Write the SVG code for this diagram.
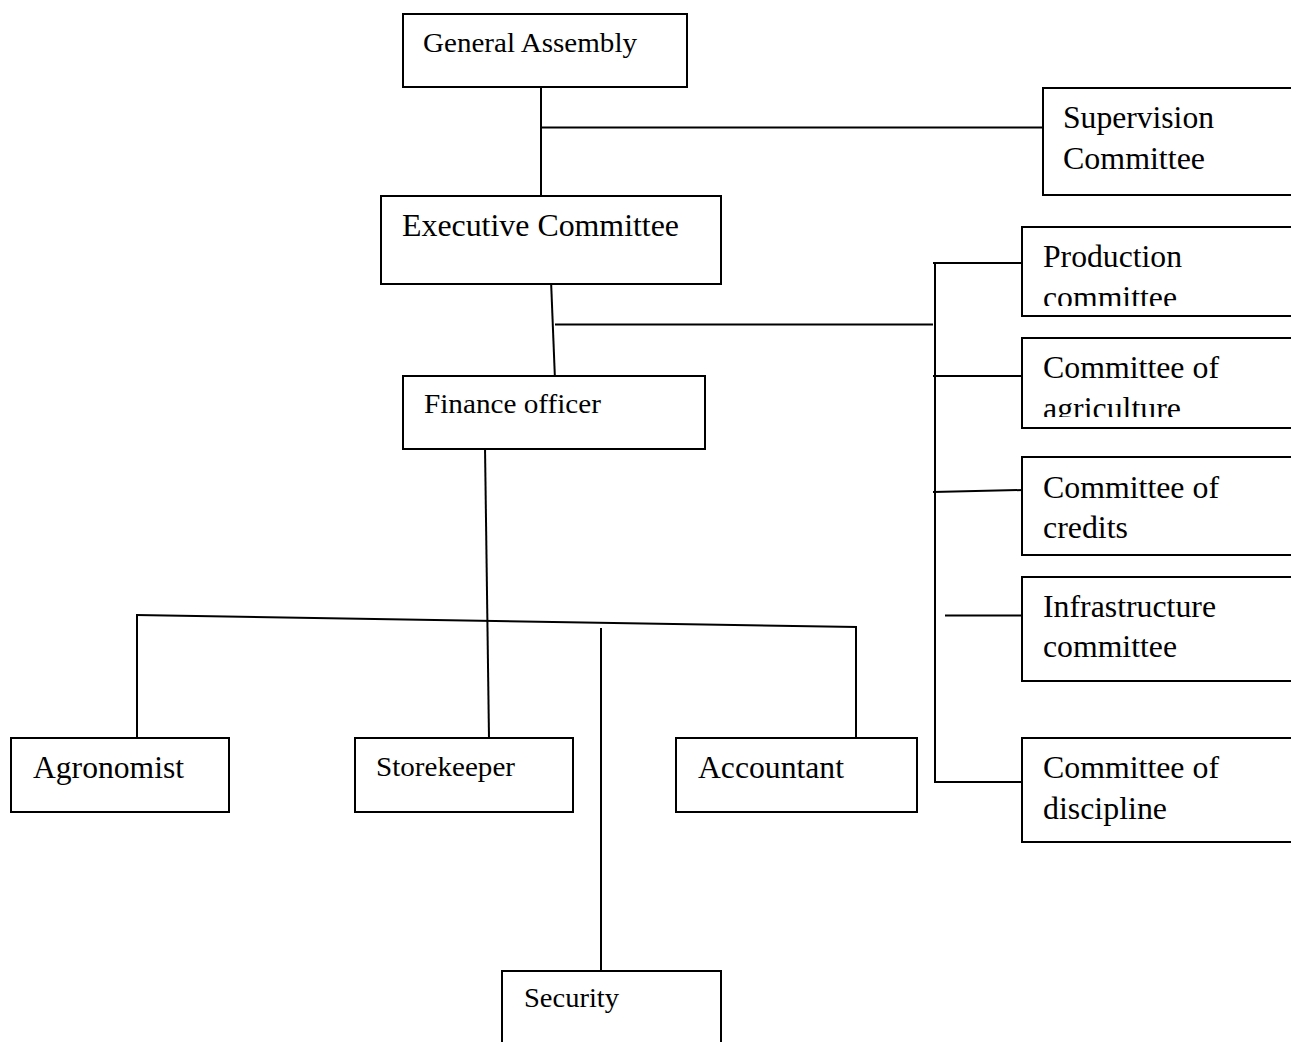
<svg xmlns="http://www.w3.org/2000/svg" width="1291" height="1042" viewBox="0 0 1291 1042">
<style>
.box{fill:#fff;stroke:#000;stroke-width:2}
.t{font-family:"Liberation Serif","Times New Roman",serif;fill:#000}
.l{font-size:31px}
.s{font-size:28px}
.c{stroke:#000;stroke-width:2;fill:none}
</style>
<defs>
<clipPath id="clipProd"><rect x="1023" y="227" width="280" height="79"/></clipPath>
<clipPath id="clipAgri"><rect x="1023" y="338" width="280" height="79"/></clipPath>
</defs>
<rect width="1291" height="1042" fill="#fff"/>
<g id="connectors">
<line class="c" x1="541" y1="84" x2="541" y2="196"/>
<line class="c" x1="541" y1="127.5" x2="1043" y2="127.5"/>
<line class="c" x1="551" y1="280" x2="555" y2="380"/>
<line class="c" x1="555" y1="324.5" x2="933" y2="324.5"/>
<line class="c" x1="935" y1="262" x2="935" y2="783"/>
<line class="c" x1="933" y1="263" x2="1023" y2="263"/>
<line class="c" x1="933" y1="376" x2="1023" y2="376"/>
<line class="c" x1="933" y1="492" x2="1023" y2="490"/>
<line class="c" x1="945" y1="615.5" x2="1023" y2="615.5"/>
<line class="c" x1="934" y1="782" x2="1023" y2="782"/>
<line class="c" x1="485" y1="447" x2="489" y2="738"/>
<line class="c" x1="136" y1="615" x2="857" y2="627"/>
<line class="c" x1="137" y1="614" x2="137" y2="738"/>
<line class="c" x1="856" y1="626" x2="856" y2="738"/>
<line class="c" x1="601" y1="628" x2="601" y2="972"/>
</g>
<g id="general-assembly">
<rect class="box" x="403" y="14" width="284" height="73"/>
<text class="t s" x="423" y="52" textLength="214" lengthAdjust="spacingAndGlyphs">General Assembly</text>
</g>
<g id="supervision-committee">
<rect class="box" x="1043" y="88" width="270" height="107"/>
<text class="t l" x="1063" y="128" textLength="151" lengthAdjust="spacingAndGlyphs">Supervision</text>
<text class="t l" x="1063" y="169" textLength="142" lengthAdjust="spacingAndGlyphs">Committee</text>
</g>
<g id="executive-committee">
<rect class="box" x="381" y="196" width="340" height="88"/>
<text class="t l" x="402" y="236" textLength="277" lengthAdjust="spacingAndGlyphs">Executive Committee</text>
</g>
<g id="production-committee">
<rect class="box" x="1022" y="227" width="290" height="89"/>
<g clip-path="url(#clipProd)">
<text class="t l" x="1043" y="267" textLength="139" lengthAdjust="spacingAndGlyphs">Production</text>
<text class="t l" x="1043" y="308" textLength="134" lengthAdjust="spacingAndGlyphs">committee</text>
</g>
</g>
<g id="committee-agriculture">
<rect class="box" x="1022" y="338" width="290" height="90"/>
<g clip-path="url(#clipAgri)">
<text class="t l" x="1043" y="378" textLength="176" lengthAdjust="spacingAndGlyphs">Committee of</text>
<text class="t l" x="1043" y="419" textLength="138" lengthAdjust="spacingAndGlyphs">agriculture</text>
</g>
</g>
<g id="committee-credits">
<rect class="box" x="1022" y="457" width="290" height="98"/>
<text class="t l" x="1043" y="498" textLength="176" lengthAdjust="spacingAndGlyphs">Committee of</text>
<text class="t l" x="1043" y="538" textLength="85" lengthAdjust="spacingAndGlyphs">credits</text>
</g>
<g id="infrastructure-committee">
<rect class="box" x="1022" y="577" width="290" height="104"/>
<text class="t l" x="1043" y="617" textLength="173" lengthAdjust="spacingAndGlyphs">Infrastructure</text>
<text class="t l" x="1043" y="657" textLength="134" lengthAdjust="spacingAndGlyphs">committee</text>
</g>
<g id="committee-discipline">
<rect class="box" x="1022" y="738" width="290" height="104"/>
<text class="t l" x="1043" y="778" textLength="176" lengthAdjust="spacingAndGlyphs">Committee of</text>
<text class="t l" x="1043" y="819" textLength="124" lengthAdjust="spacingAndGlyphs">discipline</text>
</g>
<g id="finance-officer">
<rect class="box" x="403" y="376" width="302" height="73"/>
<text class="t s" x="424" y="413" textLength="177" lengthAdjust="spacingAndGlyphs">Finance officer</text>
</g>
<g id="agronomist">
<rect class="box" x="11" y="738" width="218" height="74"/>
<text class="t l" x="33" y="778" textLength="151" lengthAdjust="spacingAndGlyphs">Agronomist</text>
</g>
<g id="storekeeper">
<rect class="box" x="355" y="738" width="218" height="74"/>
<text class="t s" x="376" y="776" textLength="139" lengthAdjust="spacingAndGlyphs">Storekeeper</text>
</g>
<g id="accountant">
<rect class="box" x="676" y="738" width="241" height="74"/>
<text class="t l" x="698" y="778" textLength="146" lengthAdjust="spacingAndGlyphs">Accountant</text>
</g>
<g id="security">
<rect class="box" x="502" y="971" width="219" height="90"/>
<text class="t s" x="524" y="1007" textLength="95" lengthAdjust="spacingAndGlyphs">Security</text>
</g>
</svg>
